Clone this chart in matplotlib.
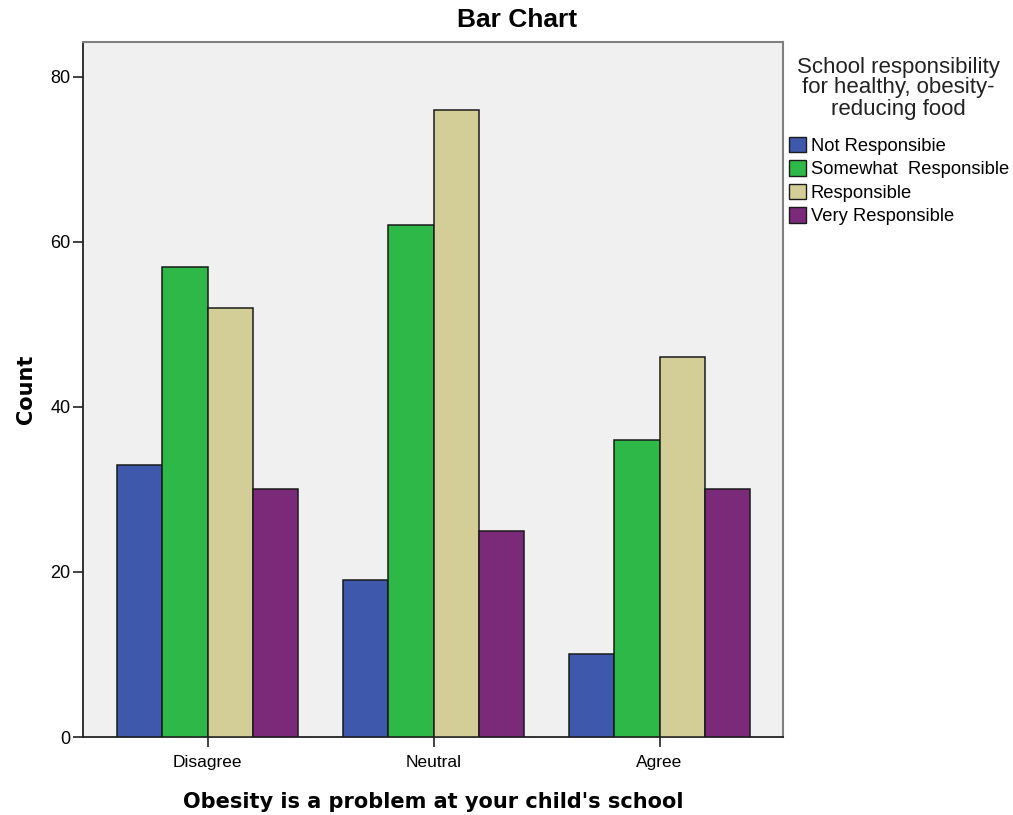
import matplotlib
matplotlib.use("Agg")
import matplotlib.pyplot as plt
import numpy as np
from matplotlib.patches import Patch

# Counts by attitude toward school obesity problem
categories = ["Disagree", "Neutral", "Agree"]
series_names = ["Not Responsibie", "Somewhat  Responsible", "Responsible", "Very Responsible"]
not_responsible = [33, 19, 10]
somewhat_responsible = [57, 62, 36]
responsible = [52, 76, 46]
very_responsible = [30, 25, 30]
yticks = [0, 20, 40, 60, 80]

series = [not_responsible, somewhat_responsible, responsible, very_responsible]
colors = ["#3E58AC", "#2EB848", "#D3CE97", "#7B2A79"]

W, H = 1013, 815
fig = plt.figure(figsize=(W / 100, H / 100), dpi=100)
ax = fig.add_axes([83 / W, 78 / H, 700 / W, 695 / H])
ax.set_facecolor("#F0F0F0")

x = np.arange(len(categories))
width = 0.2
for i, (vals, col) in enumerate(zip(series, colors)):
    ax.bar(x + (i - 1.5) * width, vals, width, color=col,
           edgecolor="#1a1a1a", linewidth=1.1, zorder=3)

ax.set_xlim(-0.551, 2.546)
ax.set_ylim(0, 84.2)
ax.set_yticks(yticks)
ax.set_xticks(x)
ax.set_xticklabels(categories, fontsize=12.5, family="Liberation Sans")
for lab in ax.get_yticklabels():
    lab.set_fontsize(13)
    lab.set_family("Liberation Sans")
ax.tick_params(axis="both", direction="out", length=7, width=1.2, color="#222222")
ax.tick_params(axis="x", pad=6)
ax.tick_params(axis="y", pad=2)

for side in ("left", "bottom"):
    ax.spines[side].set_color("#222222")
    ax.spines[side].set_linewidth(1.3)
for side in ("top", "right"):
    ax.spines[side].set_color("#808080")
    ax.spines[side].set_linewidth(1.5)

fig.text(517 / W, 1 - 20 / H, "Bar Chart", fontsize=19, fontweight="bold",
         family="Liberation Sans", ha="center", va="center")
ax.set_xlabel("Obesity is a problem at your child's school", fontsize=15,
              fontweight="bold", family="DejaVu Sans", labelpad=16)
ax.set_ylabel("Count", fontsize=15, fontweight="bold", family="DejaVu Sans", labelpad=10)

# Legend heading drawn as its own centered block
fig.text(898 / W, 1 - 88 / H, "School responsibility\nfor healthy, obesity-\nreducing food",
         fontsize=16, family="Liberation Sans", ha="center", va="center",
         multialignment="center", linespacing=1.0, color="#222222")

handles = [Patch(facecolor=c, edgecolor="#1a1a1a", linewidth=1.0) for c in colors]
fig.legend(handles, series_names, loc="upper left",
           bbox_to_anchor=(789 / W, 1 - 137 / H),
           frameon=False,
           prop={"family": "Liberation Sans", "size": 13.2},
           handlelength=0.9, handleheight=0.9, handletextpad=0.3,
           labelspacing=0.3, borderaxespad=0, borderpad=0)

fig.savefig("out.png", dpi=100, facecolor="white")
